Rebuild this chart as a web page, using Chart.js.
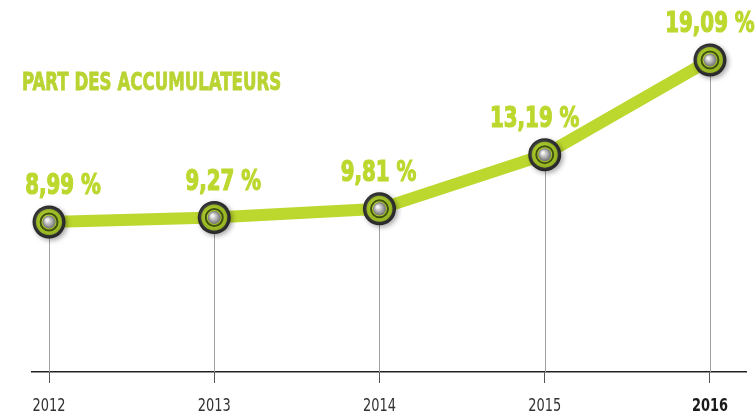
<!DOCTYPE html>
<html>
<head>
<meta charset="utf-8">
<script src="https://cdn.jsdelivr.net/npm/chart.js@4"></script>
<style>
  html, body { margin: 0; padding: 0; background: #fff; }
  #wrap { position: relative; width: 756px; height: 417px; }
  #title {
    position: absolute; left: 22px; top: 68px;
    font-family: "DejaVu Sans Condensed", sans-serif;
    font-weight: bold; font-size: 24px; color: #b9d432;
    -webkit-text-stroke: 0.8px #b9d432;
    transform: scaleX(0.77); transform-origin: 0 0; white-space: nowrap;
  }
</style>
</head>
<body>
<div id="wrap">
  <canvas id="myChart" width="756" height="417"></canvas>
  <div id="title">PART DES ACCUMULATEURS</div>
</div>
<script>
const years = [2012, 2013, 2014, 2015, 2016];
const shares = [8.99, 9.27, 9.81, 13.19, 19.09];
const valueLabels = ['8,99 %', '9,27 %', '9,81 %', '13,19 %', '19,09 %'];
const yearLabels = ['2012', '2013', '2014', '2015', '2016'];
// little horizontal nudges of the value labels, as in the original layout
const labelShift = [14, 9, -1, -10, 0];

const green = '#bcd82e';
const cond = '"DejaVu Sans Condensed", sans-serif';

function squeezedText(ctx, txt, x, y, sx, stroke) {
  ctx.save();
  ctx.translate(x, y);
  ctx.scale(sx, 1);
  ctx.fillText(txt, 0, 0);
  if (stroke) ctx.strokeText(txt, 0, 0);
  ctx.restore();
}

const decorations = {
  id: 'decorations',
  beforeDatasetsDraw(chart) {
    // thin drop lines from each point to the axis
    const ctx = chart.ctx;
    const meta = chart.getDatasetMeta(0);
    const bottom = chart.chartArea.bottom;
    ctx.save();
    ctx.strokeStyle = '#a0a0a0';
    ctx.lineWidth = 1;
    meta.data.forEach(pt => {
      ctx.beginPath();
      ctx.moveTo(Math.round(pt.x) + 0.5, pt.y);
      ctx.lineTo(Math.round(pt.x) + 0.5, bottom);
      ctx.stroke();
    });
    ctx.restore();
  },
  afterDatasetsDraw(chart) {
    const ctx = chart.ctx;
    const meta = chart.getDatasetMeta(0);
    ctx.save();
    meta.data.forEach((pt, i) => {
      const x = pt.x, y = pt.y;
      ctx.save();
      ctx.shadowColor = 'rgba(0,0,0,0.35)';
      ctx.shadowBlur = 5;
      ctx.shadowOffsetX = 2;
      ctx.shadowOffsetY = 2;
      let g = ctx.createRadialGradient(x - 4, y - 4, 2, x, y, 17);
      g.addColorStop(0, '#777');
      g.addColorStop(1, '#222');
      ctx.fillStyle = g;
      ctx.beginPath(); ctx.arc(x, y, 16.5, 0, Math.PI * 2); ctx.fill();
      ctx.restore();
      g = ctx.createRadialGradient(x - 3, y - 3, 2, x, y, 14);
      g.addColorStop(0, '#c4e03a');
      g.addColorStop(1, '#8fae1e');
      ctx.fillStyle = g;
      ctx.beginPath(); ctx.arc(x, y, 13, 0, Math.PI * 2); ctx.fill();
      ctx.strokeStyle = '#3f5210';
      ctx.lineWidth = 2;
      ctx.beginPath(); ctx.arc(x, y, 8.5, 0, Math.PI * 2); ctx.stroke();
      g = ctx.createRadialGradient(x - 2, y - 2, 1, x, y, 6.5);
      g.addColorStop(0, '#f4f4f4');
      g.addColorStop(1, '#707070');
      ctx.fillStyle = g;
      ctx.beginPath(); ctx.arc(x, y, 6.5, 0, Math.PI * 2); ctx.fill();

      ctx.fillStyle = green;
      ctx.strokeStyle = green;
      ctx.lineWidth = 1.2;
      ctx.font = 'bold 29px ' + cond;
      ctx.textAlign = 'center';
      ctx.textBaseline = 'alphabetic';
      squeezedText(ctx, valueLabels[i], x + labelShift[i], y - 28, 0.76, true);
    });
    ctx.restore();
  },
  afterDraw(chart) {
    // year labels under the axis, condensed like the original
    const ctx = chart.ctx;
    const xs = chart.scales.x;
    ctx.save();
    ctx.textAlign = 'center';
    ctx.textBaseline = 'alphabetic';
    years.forEach((yr, i) => {
      const last = i === years.length - 1;
      ctx.font = (last ? 'bold ' : '') + '18px ' + cond;
      ctx.fillStyle = last ? '#1a1a1a' : '#333';
      squeezedText(ctx, yearLabels[i], xs.getPixelForValue(yr), 411, 0.8, false);
    });
    ctx.restore();
  }
};

new Chart(document.getElementById('myChart').getContext('2d'), {
  type: 'line',
  data: {
    datasets: [{
      data: years.map((y, i) => ({x: y, y: shares[i]})),
      borderColor: green,
      borderWidth: 12,
      pointRadius: 0,
      tension: 0,
      clip: false
    }]
  },
  options: {
    responsive: false,
    animation: false,
    layout: {padding: {left: 32, right: 10, top: 0, bottom: 0}},
    plugins: {legend: {display: false}, tooltip: {enabled: false}},
    scales: {
      x: {
        type: 'linear',
        min: 2011.897,
        max: 2016.218,
        afterBuildTicks: axis => { axis.ticks = years.map(v => ({value: v})); },
        afterFit: axis => { axis.height = 45; },
        grid: {drawOnChartArea: false, drawTicks: true, tickLength: 11, color: '#555', lineWidth: 1},
        border: {color: '#222', width: 1.5},
        ticks: {display: false}
      },
      y: {
        display: false,
        min: -0.36,
        max: 22.83
      }
    }
  },
  plugins: [decorations]
});
</script>
</body>
</html>
